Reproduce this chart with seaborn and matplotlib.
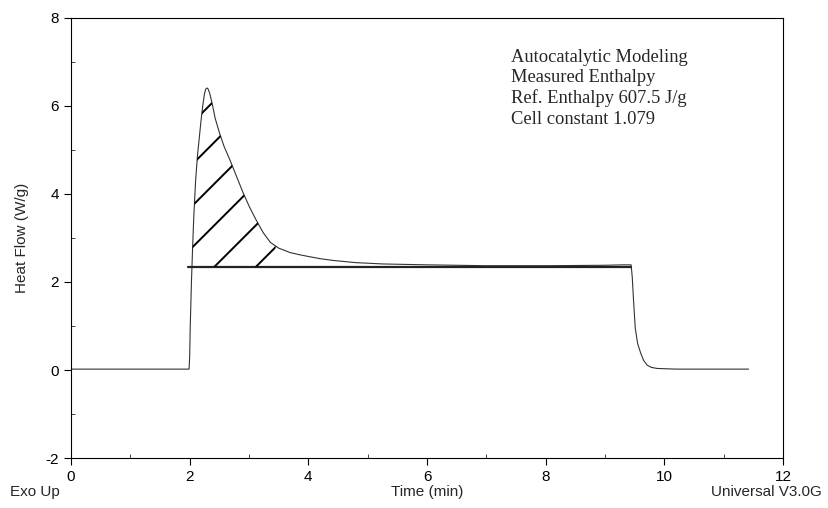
import numpy as np
import pandas as pd
import matplotlib
matplotlib.use("Agg")
import matplotlib.pyplot as plt
import seaborn as sns
from matplotlib.ticker import MultipleLocator

# ---- data ----
time_min = [0.0, 1.0, 1.99, 2.00, 2.01, 2.03, 2.05, 2.07, 2.10, 2.13, 2.16, 2.19,
            2.22, 2.25, 2.27, 2.29, 2.31, 2.34, 2.38, 2.43, 2.50, 2.58, 2.68,
            2.79, 2.90, 3.01, 3.12, 3.24, 3.36, 3.50, 3.69, 3.85, 4.00, 4.20,
            4.42, 4.80, 5.26, 6.0, 7.0, 8.0, 9.0, 9.30, 9.44, 9.46, 9.48, 9.51,
            9.55, 9.60, 9.65, 9.71, 9.78, 9.88, 10.2, 11.42]
heat_flow = [0.02, 0.02, 0.02, 0.3, 1.0, 2.0, 2.8, 3.5, 4.3, 4.85, 5.25, 5.65,
             6.0, 6.28, 6.38, 6.41, 6.39, 6.28, 6.05, 5.72, 5.40, 5.08, 4.77,
             4.40, 4.03, 3.70, 3.41, 3.12, 2.90, 2.77, 2.67, 2.62, 2.58, 2.53,
             2.49, 2.44, 2.41, 2.39, 2.37, 2.37, 2.38, 2.39, 2.39, 2.10, 1.60, 0.95,
             0.60, 0.39, 0.22, 0.11, 0.06, 0.035, 0.02, 0.02]
baseline_start, baseline_end, baseline_level = 1.97, 9.44, 2.35
hatch_start, hatch_end = 2.0, 3.45
x_ticks = [0, 2, 4, 6, 8, 10, 12]
y_ticks = [-2, 0, 2, 4, 6, 8]
notes = ["Autocatalytic Modeling", "Measured Enthalpy",
         "Ref. Enthalpy 607.5 J/g", "Cell constant 1.079"]

df = pd.DataFrame({"Time (min)": time_min, "Heat Flow (W/g)": heat_flow})

sns.set_style("ticks")
plt.rcParams["font.family"] = ["Liberation Sans", "DejaVu Sans"]
plt.rcParams["axes.unicode_minus"] = False

fig = plt.figure(figsize=(8.29, 5.08), dpi=100)
ax = fig.add_axes([71 / 829, 1 - 458 / 508, (783 - 71) / 829, (458 - 18) / 508])

sns.lineplot(data=df, x="Time (min)", y="Heat Flow (W/g)", ax=ax,
             color="#333333", linewidth=0.8, sort=False, estimator=None)

# baseline
ax.plot([baseline_start, baseline_end], [baseline_level, baseline_level],
        color="#222222", linewidth=1.6)

ax.set_xlim(0, 12)
ax.set_ylim(-2, 8)
ax.set_xticks(x_ticks)
ax.set_yticks(y_ticks)
ax.xaxis.set_minor_locator(MultipleLocator(1))
ax.yaxis.set_minor_locator(MultipleLocator(1))
ax.tick_params(which="major", direction="out", length=5, width=0.8,
               labelsize=11, colors="black")
ax.tick_params(which="minor", direction="in", length=3, width=0.6)
for s in ax.spines.values():
    s.set_visible(True)
    s.set_linewidth(0.8)
    s.set_color("black")
ax.set_xlabel("")
ax.set_ylabel("Heat Flow (W/g)", fontsize=11, labelpad=12)

# hatched peak area (clip polygon between curve and baseline)
t = np.array(time_min)
h = np.array(heat_flow)
tt = np.linspace(hatch_start, hatch_end, 300)
hh = np.interp(tt, t, h)
poly = ax.fill_between(tt, baseline_level, hh, facecolor="none", edgecolor="none")
fig.canvas.draw()
# 45-degree lines in screen space
p0 = ax.transData.transform((0, 0))
p1 = ax.transData.transform((1, 1))
sl = (p1[0] - p0[0]) / (p1[1] - p0[1])  # dy_data per dx_data for 45 deg on screen
spacing = 0.70
for k in range(-6, 3):
    t0 = 2.42 + k * spacing
    xs = np.array([t0, t0 + 5])
    ys = baseline_level + (xs - t0) * sl
    ln, = ax.plot(xs, ys, color="black", linewidth=1.4)
    ln.set_clip_path(poly.get_paths()[0], transform=ax.transData)

# annotations
ax.text(0.618, 0.93, "\n".join(notes), transform=ax.transAxes,
        fontfamily=["Liberation Serif", "DejaVu Serif"], fontsize=13.3,
        va="top", ha="left", linespacing=1.25)

fig.text(10 / 829, 1 - 492 / 508, "Exo Up", fontsize=11, va="center", ha="left")
fig.text(427 / 829, 1 - 492 / 508, "Time (min)", fontsize=11, va="center", ha="center")
fig.text(822 / 829, 1 - 492 / 508, "Universal V3.0G", fontsize=11, va="center", ha="right")

fig.savefig("out.png", dpi=100)
